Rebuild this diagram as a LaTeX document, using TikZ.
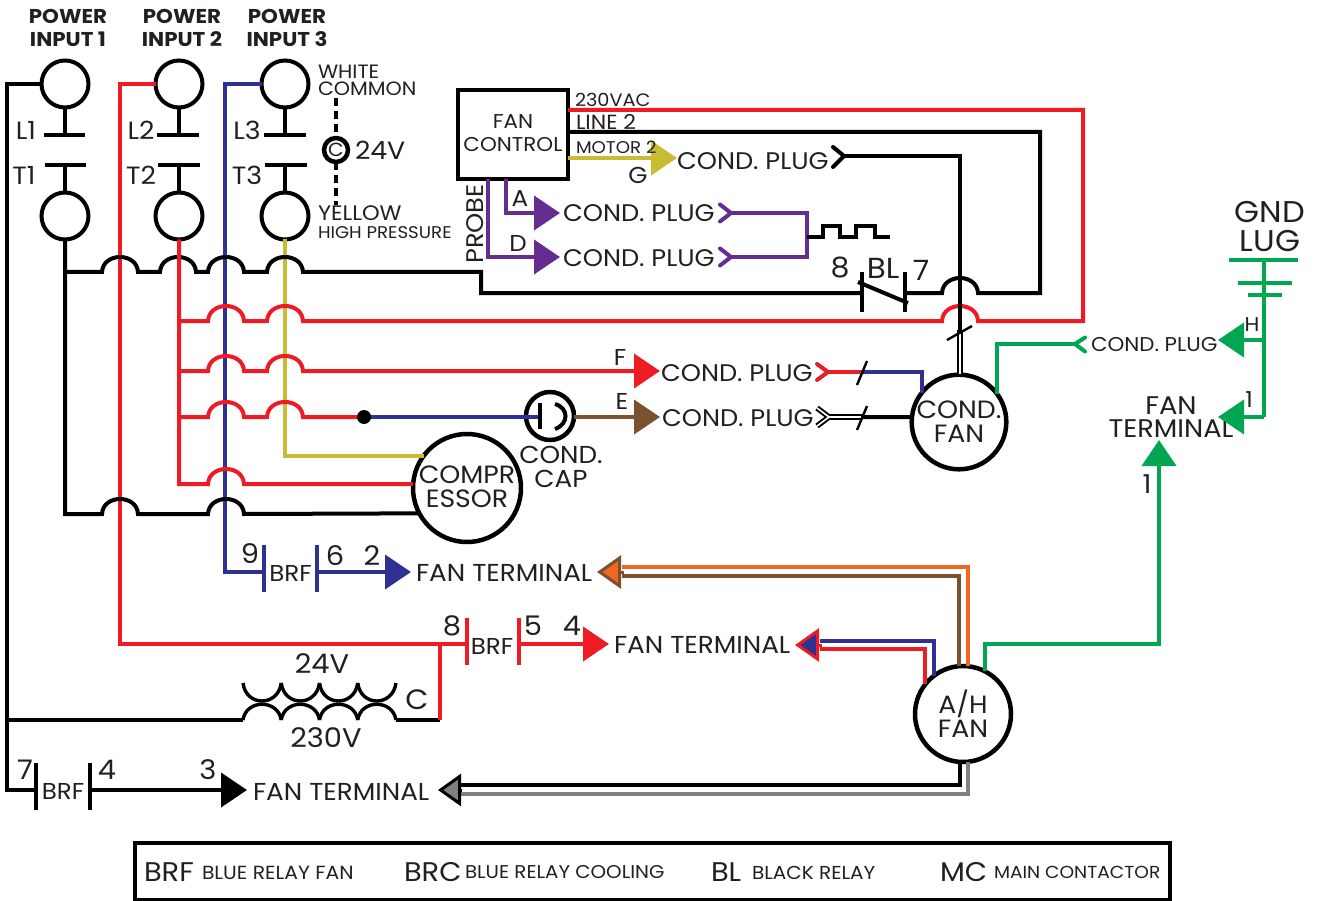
\documentclass[tikz,border=0pt]{standalone}
\usepackage{fontspec}
\setmainfont{Poppins}[FakeStretch=1.07]
\usetikzlibrary{arrows.meta}
\definecolor{wred}{HTML}{ED1C24}
\definecolor{wblue}{HTML}{2E3192}
\definecolor{wyel}{HTML}{C9BC32}
\definecolor{wpur}{HTML}{662D91}
\definecolor{wbrn}{HTML}{7B5230}
\definecolor{worg}{HTML}{F26522}
\definecolor{wgrn}{HTML}{00A651}
\definecolor{wgry}{HTML}{808080}
\definecolor{ink}{HTML}{231F20}
\def\fs#1{\fontsize{#1}{#1}\selectfont}
\def\hop#1#2{-- (#1-18,#2) .. controls (#1-17,#2-20) and (#1+17,#2-20) .. (#1+18,#2)}
\tikzset{
  x=1pt,y=-1pt,
  wire/.style={line width=4pt,line join=miter},
  bk/.style={wire,black},
  rd/.style={wire,wred},
  bl/.style={wire,wblue},
  yl/.style={wire,wyel},
  pu/.style={wire,wpur},
  br/.style={wire,wbrn},
  og/.style={wire,worg},
  gn/.style={wire,wgrn},
  gy/.style={wire,wgry},
  term/.style={circle,draw=black,line width=4pt,minimum size=47pt,inner sep=0pt,outer sep=0pt},
  motor/.style={circle,draw=black,line width=4.5pt,inner sep=0pt,outer sep=0pt,align=center,text=ink},
  lab/.style={inner sep=0pt,outer sep=0pt,text=ink,align=center},
  lft/.style={lab,anchor=west},
  plugtxt/.style={lft,font=\fs{24}},
  fttxt/.style={lft,font=\fs{24.5}},
  tip/.style={-{Triangle[length=26pt,width=34pt]}},
  dchev/.style={line width=4pt,line cap=round,line join=round},
}
\begin{document}
\begin{tikzpicture}
\useasboundingbox (0,0) rectangle (1319,901);
% ---- contact terminals
\node[term] (u1) at (65,84) {};
\node[term] (u2) at (179,84) {};
\node[term] (u3) at (285,84) {};
\node[term] (d1) at (65,216) {};
\node[term] (d2) at (179,216) {};
\node[term] (d3) at (285,216) {};
\node[circle,draw=black,line width=4.5pt,minimum size=24pt,inner sep=0pt,outer sep=0pt,font=\fs{19},text=ink] (c24) at (336,150) {C};
% ---- motors, control, caps
\node[motor,minimum size=94pt,font=\fs{25}] (cf) at (959,422) {COND.\\[-1pt]FAN};
\node[motor,minimum size=108pt,font=\fs{25}] (comp) at (467,488) {\raisebox{3pt}{COMPR}\\[-1pt]\raisebox{3pt}{ESSOR}};
\node[motor,minimum size=96pt,font=\fs{25}] (af) at (963,714) {A/H\\[-1pt]FAN};
\node[circle,draw=black,line width=4.5pt,minimum size=48pt,inner sep=0pt,outer sep=0pt] (cap) at (550,416) {};
\node[draw=black,line width=4pt,minimum width=110pt,minimum height=89pt,inner sep=0pt,outer sep=0pt,align=center,font=\fs{20},text=ink] (fc) at (513,134.5) {\raisebox{3pt}{FAN}\\[3pt]\raisebox{3pt}{CONTROL}};
% ---- texts
\node[lab,font=\bfseries\fs{20}] (p1) at (68,28) {POWER\\[2.5pt]INPUT 1};
\node[lab,font=\bfseries\fs{20}] (p2) at (182,28) {POWER\\[2.5pt]INPUT 2};
\node[lab,font=\bfseries\fs{20}] (p3) at (287,28) {POWER\\[2.5pt]INPUT 3};
\node[lft,font=\fs{19.3},align=left] (wc) at (318,80) {WHITE\\[-2pt]COMMON};
\node[lft,font=\fs{25}] (v24) at (355,150) {24V};
\node[lft,font=\fs{21}] (yel) at (318,213) {YELLOW};
\node[lft,font=\fs{17}] (hp) at (318,233) {HIGH PRESSURE};
\foreach \n/\t/\x/\y in {l1/L1/26/130,l2/L2/141/130,l3/L3/247/130,t1/T1/24/175,t2/T2/141/175,t3/T3/247/175}
  \node[lab,font=\fs{25}] (\n) at (\x,\y) {\t};
\node[lft,font=\fs{18}] (a230) at (575,100) {230VAC};
\node[lft,font=\fs{20.5}] (ln2) at (576,122) {LINE 2};
\node[lab,font=\fs{23}] (lg) at (638,175) {G};
\node[lab,font=\fs{23}] (la) at (520,199) {A};
\node[lab,font=\fs{23}] (ld) at (518,243) {D};
\node[lab,font=\fs{24},rotate=90] (pr) at (475,224) {PROBE};
\node[plugtxt] (pg) at (677,161) {COND. PLUG};
\node[plugtxt] (pa) at (563,213) {COND. PLUG};
\node[plugtxt] (pd) at (563,258) {COND. PLUG};
\node[plugtxt] (pf) at (661,373) {COND. PLUG};
\node[plugtxt] (pe) at (662,418) {COND. PLUG};
\node[lft,font=\fs{20}] (pgn) at (1091,345) {COND. PLUG};
\node[lab,font=\fs{28}] (n8b) at (840,268) {8};
\node[lab,font=\fs{29}] (nbl) at (883,268) {BL};
\node[lab,font=\fs{28}] (n7b) at (921,270) {7};
\node[lab,font=\fs{23}] (lf) at (620,357) {F};
\node[lab,font=\fs{23}] (le) at (622,401) {E};
\node[lab,font=\fs{24.5}] (ccap) at (561,467) {COND.\\[-1pt]CAP};
\node[lab,font=\fs{30}] (gnd) at (1270,227) {GND\\[-1pt]LUG};
\node[lab,font=\fs{20}] (lh) at (1252,325) {H};
\node[lab,font=\fs{22}] (l1g) at (1249,400) {1};
\node[lab,font=\fs{25.5}] (ftg) at (1171,417) {FAN\\[-2pt]TERMINAL};
\node[lab,font=\fs{26}] (l1b) at (1147,484) {1};
\node[fttxt] (ft2) at (416,573) {FAN TERMINAL};
\node[fttxt] (ft4) at (614,645) {FAN TERMINAL};
\node[fttxt] (ft3) at (253,792) {FAN TERMINAL};
\node[lab,font=\fs{27}] (n9) at (250,554) {9};
\node[lab,font=\fs{23}] (brf1) at (290.5,573) {BRF};
\node[lab,font=\fs{27}] (n6) at (335,556) {6};
\node[lab,font=\fs{27}] (n2) at (372,556) {2};
\node[lab,font=\fs{27}] (n8) at (452,626) {8};
\node[lab,font=\fs{23}] (brf2) at (492,646) {BRF};
\node[lab,font=\fs{27}] (n5) at (533,626) {5};
\node[lab,font=\fs{27}] (n4) at (572,626) {4};
\node[lab,font=\fs{27}] (v24b) at (322,664) {24V};
\node[lab,font=\fs{27}] (v230) at (326,738) {230V};
\node[lab,font=\fs{28}] (lc) at (417,700) {C};
\node[lab,font=\fs{27}] (n7) at (25,770) {7};
\node[lab,font=\fs{23}] (brf3) at (63,791) {BRF};
\node[lab,font=\fs{27}] (n4b) at (107,770) {4};
\node[lab,font=\fs{27}] (n3) at (208,770) {3};
% ---- legend
\node[draw=black,line width=4pt,minimum width=1035pt,minimum height=57pt,inner sep=0pt,outer sep=0pt] (leg) at (652.5,871.5) {};
\foreach \n/\t/\x/\s in {k1/BRF/144/27,k2/BLUE RELAY FAN/202/19,k3/BRC/404/27,k4/BLUE RELAY COOLING/465/18.5,k5/BL/711/27,k6/BLACK RELAY/752/18.7,k7/MC/940/27,k8/MAIN CONTACTOR/994/17.4}
  \node[lft,font=\fs{\s}] (\n) at (\x,872.5) {\t};
% ---- named junctions
\coordinate (lrail) at (7,84);
\coordinate (rrail) at (120,84);
\coordinate (brail) at (225,84);
\coordinate (j1) at (65,272);
\coordinate (j2) at (179,321);
\coordinate (j3) at (179,371);
\coordinate (j4) at (179,417);
\coordinate (dot) at (364,417);
\coordinate (r1) at (862,293);
\coordinate (r2) at (905,293);
\coordinate (b91) at (264,572);
\coordinate (b92) at (317,572);
\coordinate (b81) at (467,644);
\coordinate (b82) at (519,644);
\coordinate (b71) at (36,790);
\coordinate (b72) at (90,790);
\coordinate (tl) at (243,720);
\coordinate (tr) at (396,720);
\coordinate (tj) at (440,720);
\coordinate (tt) at (440,644);
\coordinate (gndt) at (1264,260);
\coordinate (tipf) at (660,371);
\coordinate (tipe) at (660,417);
\coordinate (tipg) at (677,158);
\coordinate (tipa) at (560,213);
\coordinate (tipd) at (560,257);
\coordinate (tip2) at (411,572);
\coordinate (tip4) at (609,644);
\coordinate (tip3) at (247,790);
% ---- contacts
\draw[bk] (u1.south) -- (65,135) (d1.north) -- (65,165);
\draw[bk] (u2.south) -- (179,135) (d2.north) -- (179,165);
\draw[bk] (u3.south) -- (285,135) (d3.north) -- (285,165);
\draw[bk] (44,135) -- (85,135) (45,165) -- (86,165);
\draw[bk] (157,135) -- (199,135) (158,165) -- (200,165);
\draw[bk] (264,135) -- (306,135) (265,165) -- (307,165);
\draw[wire,black,dash pattern=on 8pt off 5pt] (336,98) -- (c24.north);
\draw[wire,black,dash pattern=on 8pt off 5pt] (c24.south) -- (336,205);
% ---- verticals
\draw[bk] (u1.west) -- (lrail) |- (b71);
\draw[rd] (u2.west) -- (rrail) |- (b81);
\draw[bl] (u3.west) -- (brail) |- (b91);
\draw[yl] (d3.south) |- (comp.143.7);
% ---- black main with hops
\draw[bk] (d1.south) -- (65,514) \hop{120}{514} \hop{226}{514} -- (comp.208.8);
\draw[bk] (j1) \hop{120}{272} \hop{178}{272} \hop{226}{272} \hop{285}{272} -- (481,272) -- (481,293) -- (r1);
\draw[bk] (r2) \hop{960}{293} -- (1040,293) -- (1040,132) -- (fc.east |- 0,132);
% ---- red branches
\draw[rd] (d2.south) -- (179,484) \hop{226}{484} -- (comp.176);
\draw[rd] (j2) \hop{226}{321} \hop{285}{321} \hop{960}{321} -- (1083,321) -- (1083,110) -- (fc.east |- 0,110);
\draw[rd] (j4) \hop{226}{417} \hop{285}{417} -- (dot);
\draw[rd,tip] (j3) \hop{226}{371} \hop{285}{371} -- (tipf);
% ---- cap
\draw[bl] (dot) -- (540,417);
\draw[wire,black] (540,403) -- (540,429);
\draw[wire,black] (555,404) .. controls (569,408) and (569,424) .. (555,429);
\fill[black] (dot) circle (7);
\draw[br,tip] (cap.east |- tipe) -- (tipe);
% ---- fan control outputs
\draw[yl,tip] (fc.east |- tipg) -- (tipg);
\node[lft,font=\fs{17}] (m2) at (576,147) {MOTOR 2};
\draw[pu,tip] (506,179) |- (tipa);
\draw[pu,tip] (488,179) |- (tipd);
\coordinate (pp1) at (731,213);
\coordinate (pp2) at (731,257);
\draw[pu] (pp1) -- (807,213) -- (807,257) -- (pp2);
\draw[dchev,wpur] (720,204.5) -- (pp1) -- (720,221.5);
\draw[dchev,wpur] (720,248.5) -- (pp2) -- (720,265.5);
\draw[bk] (807,237) -- (823,237) -- (823,226) -- (840,226) -- (840,237) -- (856,237) -- (856,226) -- (875,226) -- (875,237) -- (890,237);
% ---- BL relay
\draw[bk] (862,272) -- (862,312) (905,272) -- (905,312);
\draw[bk] (858,282) -- (908,303);
% ---- G plug to cond fan
\coordinate (gj) at (844,156);
\draw[dchev,black] (833,147) -- (gj) -- (833,167);
\draw[bk] (gj) -- (960,156) -- (960,330);
\draw[black,line width=5.5pt] (960,330) -- (960,376);
\draw[white,line width=1.6pt] (960,332) -- (960,374);
\draw[black,line width=2.4pt] (947,340) -- (972,326);
% ---- F and E plugs
\coordinate (fj) at (828,372);
\draw[dchev,wred] (817,364) -- (fj) -- (817,380);
\draw[rd] (fj) -- (863,372);
\draw[bl] (863,372) -| (cf.142);
\draw[black,line width=2.4pt] (857,385) -- (867,361);
\coordinate (ej) at (829,417);
\draw[black,line width=5.5pt,line join=miter] (817,408) -- (ej) -- (817,426);
\draw[black,line width=5.5pt] (ej) -- (863,417);
\draw[white,line width=1.6pt] (817,408) -- (ej) -- (817,426);
\draw[white,line width=1.6pt] (ej) -- (861,417);
\draw[bk] (863,417) -- (cf.174);
\draw[black,line width=2.4pt] (857,430) -- (867,406);
% ---- green ground side
\coordinate (gpj) at (1075,344);
\draw[gn] (cf.36) |- (gpj);
\draw[dchev,wgrn] (1085,337.5) -- (gpj) -- (1085,351.5);
\draw[gn] (gndt) -- (1264,417);
\draw[gn] (1229,260) -- (1298,260);
\draw[gn] (1238,283) -- (1292,283);
\draw[gn] (1248,295) -- (1282,295);
\draw[gn,tip] (1264,340) -- (1218,340);
\draw[gn,tip] (1264,417) -- (1218,417);
\draw[gn,tip] (af.63) |- (1159,644) -- (1159,440);
% ---- BRF relays
\draw[bl] (264,545) -- (264,592) (317,545) -- (317,592);
\draw[bl,tip] (b92) -- (tip2);
\draw[rd] (467,618) -- (467,665) (519,618) -- (519,665);
\draw[rd,tip] (b82) -- (tip4);
\draw[bk] (36,763) -- (36,810) (90,763) -- (90,810);
\draw[bk,tip] (b72) -- (tip3);
% ---- transformer
\draw[bk] (7,720) -- (tl);
\draw[bk] (tr) -- (tj);
\draw[rd] (tj) -- (tt);
\foreach \i in {0,1,2,3}{
  \draw[bk,line width=3.4pt] ({243+38.25*\i},683) .. controls ({246+38.25*\i},707) and ({278+38.25*\i},707) .. ({281.25+38.25*\i},683);
  \draw[bk,line width=3.4pt] ({243+38.25*\i},720) .. controls ({246+38.25*\i},699) and ({278+38.25*\i},699) .. ({281.25+38.25*\i},720);
}
% ---- A/H fan returns
\coordinate (oe) at (622,567);
\coordinate (be) at (622,576);
\draw[og] (af.84) |- (oe);
\draw[br] (af.95) |- (be);
\draw[wbrn,line width=3pt,-{Triangle[length=24pt,width=33pt,fill=worg]}] (624,572) -- (597,572);
\coordinate (ble) at (820,641);
\coordinate (rde) at (820,649);
\draw[bl] (af.127) |- (ble);
\draw[rd] (af.142) |- (rde);
\draw[wred,line width=3pt,-{Triangle[length=24pt,width=33pt,fill=wblue]}] (822,645) -- (795,645);
\coordinate (bke) at (460,785);
\coordinate (gye) at (460,794);
\draw[bk] (af.266) |- (bke);
\draw[gy] (af.276) |- (gye);
\draw[black,line width=3pt,-{Triangle[length=23pt,width=32pt,fill=wgry]}] (462,790) -- (438,790);
\end{tikzpicture}
\end{document}
